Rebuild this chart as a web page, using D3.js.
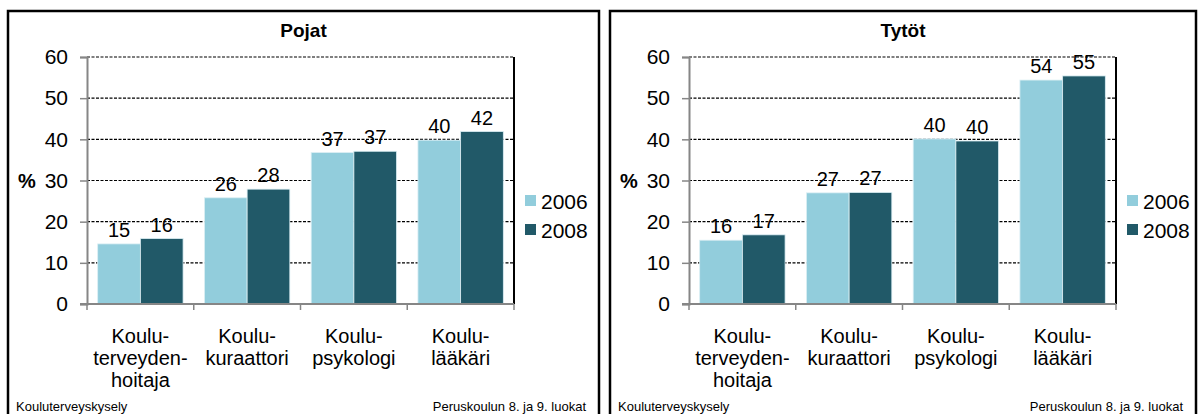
<!DOCTYPE html>
<html>
<head>
<meta charset="utf-8">
<script src="https://cdn.jsdelivr.net/npm/d3@7"></script>
<style>
  body { margin: 0; background: #fff; }
  svg text { font-family: "Liberation Sans", Arial, sans-serif; fill: #000; }
</style>
</head>
<body>
<svg id="chart" width="1198" height="414"></svg>
<script>
// data
const categories = [
  ["Koulu-", "terveyden-", "hoitaja"],
  ["Koulu-", "kuraattori"],
  ["Koulu-", "psykologi"],
  ["Koulu-", "lääkäri"]
];
const years = ["2006", "2008"];
const pojat2006 = [14.6, 25.8, 36.8, 39.8];
const pojat2008 = [15.9, 27.9, 37.1, 41.9];
const tytot2006 = [15.5, 27.0, 40.1, 54.4];
const tytot2008 = [16.8, 27.1, 39.6, 55.4];
const yTicks = [0, 10, 20, 30, 40, 50, 60];
const colors = ["#92cddc", "#215968"];
const footLeft = "Kouluterveyskysely";
const footRight = "Peruskoulun 8. ja 9. luokat";

const svg = d3.select("#chart");

function drawPanel(x0, x1, title, s1, s2) {
  let g = svg.append("g");
  let plotL = x0 + 79, plotR = x0 + 506, plotT = 57, plotB = 304;

  // panel frame (runs past bottom edge)
  g.append("rect")
    .attr("x", x0).attr("y", 11)
    .attr("width", x1 - x0).attr("height", 420)
    .attr("fill", "none").attr("stroke", "#000").attr("stroke-width", 2.5);

  let y = d3.scaleLinear().domain([0, 60]).range([plotB, plotT]);
  let x = d3.scaleBand().domain(d3.range(categories.length)).range([plotL, plotR]);
  let bw = x.bandwidth();
  let xs = d3.scaleBand().domain(years).range([bw * 0.1, bw * 0.9]);

  // gridlines
  g.append("g").selectAll("line")
    .data(yTicks.filter(d => d > 0))
    .join("line")
    .attr("x1", plotL).attr("x2", plotR)
    .attr("y1", d => y(d)).attr("y2", d => y(d))
    .attr("stroke", "#000").attr("stroke-width", 1.2)
    .attr("stroke-dasharray", "3,1.5");

  // bars
  let rows = categories.map((c, i) => ({ i: i, vals: [s1[i], s2[i]] }));
  let grp = g.append("g").selectAll("g")
    .data(rows).join("g")
    .attr("transform", d => `translate(${x(d.i)},0)`);
  grp.selectAll("rect")
    .data(d => d.vals.map((v, k) => ({ year: years[k], v: v, k: k })))
    .join("rect")
    .attr("x", d => xs(d.year))
    .attr("width", xs.bandwidth())
    .attr("y", d => y(d.v))
    .attr("height", d => y(0) - y(d.v))
    .attr("fill", d => colors[d.k])
    .attr("stroke", "#dceff4").attr("stroke-width", 0.8);
  grp.selectAll("text")
    .data(d => d.vals.map((v, k) => ({ year: years[k], v: v })))
    .join("text")
    .attr("x", d => xs(d.year) + xs.bandwidth() / 2)
    .attr("y", d => y(d.v) - 7)
    .attr("text-anchor", "middle")
    .attr("font-size", 20)
    .text(d => d3.format(".0f")(d.v));

  // plot right border
  g.append("line")
    .attr("x1", plotR).attr("x2", plotR).attr("y1", plotT).attr("y2", plotB)
    .attr("stroke", "#000").attr("stroke-width", 2);

  // y axis
  let yAxis = g.append("g")
    .attr("transform", `translate(${plotL},0)`)
    .call(d3.axisLeft(y).tickValues(yTicks).tickSize(7).tickPadding(12));
  yAxis.select(".domain").attr("stroke", "#868686").attr("stroke-width", 2);
  yAxis.selectAll(".tick line").attr("stroke", "#868686").attr("stroke-width", 1.5);
  yAxis.selectAll(".tick text")
    .attr("font-size", 21).attr("font-family", "Liberation Sans, Arial, sans-serif")
    .attr("fill", "#000");

  // x axis with ticks on category boundaries
  let xAxis = g.append("g").attr("transform", `translate(0,${plotB})`);
  xAxis.append("line")
    .attr("x1", plotL - 7).attr("x2", plotR)
    .attr("stroke", "#868686").attr("stroke-width", 2);
  xAxis.selectAll("line.tk")
    .data(d3.range(categories.length + 1))
    .join("line").attr("class", "tk")
    .attr("x1", i => plotL + i * bw).attr("x2", i => plotL + i * bw)
    .attr("y1", 0).attr("y2", 6)
    .attr("stroke", "#868686").attr("stroke-width", 1.5);

  // category labels
  g.append("g").selectAll("text")
    .data(categories.map((c, i) => ({ c: c, i: i })))
    .join("text")
    .attr("text-anchor", "middle")
    .attr("font-size", 20)
    .attr("transform", d => `translate(${x(d.i) + bw / 2},343)`)
    .selectAll("tspan")
    .data(d => d.c)
    .join("tspan")
    .attr("x", 0)
    .attr("y", (d, k) => k * 22)
    .text(d => d);

  // % label
  g.append("text")
    .attr("x", x0 + 10).attr("y", y(30)).attr("dy", "0.35em")
    .attr("font-size", 20).attr("font-weight", "bold")
    .text("%");

  // title
  g.append("text")
    .attr("x", (x0 + x1) / 2).attr("y", 37)
    .attr("text-anchor", "middle")
    .attr("font-size", 19).attr("font-weight", "bold")
    .text(title);

  // legend
  let leg = g.append("g").selectAll("g")
    .data(years).join("g")
    .attr("transform", (d, k) => `translate(${plotR + 11},${195 + k * 29})`);
  leg.append("rect")
    .attr("width", 11).attr("height", 11)
    .attr("fill", (d, k) => colors[k]);
  leg.append("text")
    .attr("x", 16).attr("y", 14)
    .attr("font-size", 21)
    .text(d => d);

  // footer
  g.append("text")
    .attr("x", x0 + 8).attr("y", 411)
    .attr("font-size", 13)
    .text(footLeft);
  g.append("text")
    .attr("x", x1 - 13).attr("y", 411)
    .attr("text-anchor", "end")
    .attr("font-size", 13)
    .text(footRight);
}

drawPanel(8, 599, "Pojat", pojat2006, pojat2008);
drawPanel(610, 1196, "Tytöt", tytot2006, tytot2008);
</script>
</body>
</html>
